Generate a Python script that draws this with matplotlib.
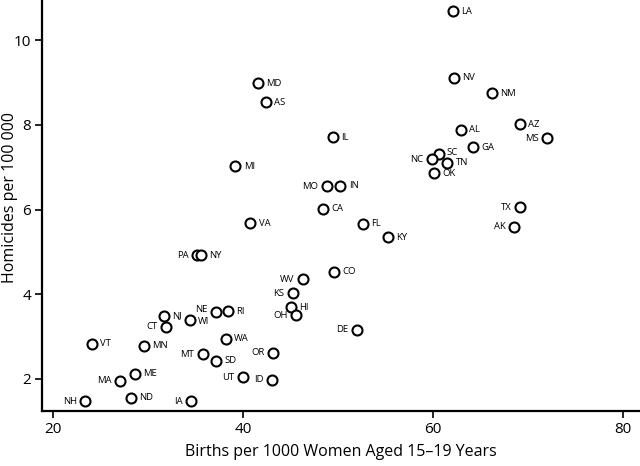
import matplotlib
matplotlib.use("Agg")
import matplotlib.pyplot as plt

plt.rcParams['font.family'] = ['Open Sans', 'DejaVu Sans']

states = ["MD", "AS", "MI", "VA", "LA", "NV", "NM", "AZ", "MS", "AL", "GA", "IL",
          "SC", "NC", "TN", "OK", "MO", "IN", "CA", "TX", "AK", "FL", "KY", "PA",
          "NY", "WV", "KS", "HI", "OH", "NJ", "NE", "RI", "WI", "CT", "VT", "MN",
          "WA", "MT", "SD", "OR", "ME", "MA", "UT", "ID", "NH", "ND", "IA", "CO", "DE"]
births = [41.56, 42.4, 39.2, 40.78, 62.09, 62.2, 66.2, 69.12, 72.0, 62.93, 64.2, 49.5,
          60.6, 59.9, 61.5, 60.08, 48.8, 50.27, 48.48, 69.16, 68.5, 52.6, 55.27, 35.13,
          35.58, 46.3, 45.25, 45.07, 45.57, 31.65, 37.16, 38.4, 34.42, 31.89, 24.08, 29.57,
          38.19, 35.76, 37.16, 43.18, 28.62, 27.07, 40.0, 43.1, 23.38, 28.2, 34.5, 49.57, 51.96]
homicides = [8.98, 8.54, 7.02, 5.68, 10.69, 9.11, 8.75, 8.02, 7.68, 7.88, 7.47, 7.71,
             7.32, 7.19, 7.11, 6.86, 6.55, 6.56, 6.02, 6.05, 5.59, 5.66, 5.34, 4.92,
             4.92, 4.35, 4.02, 3.69, 3.50, 3.49, 3.58, 3.60, 3.39, 3.23, 2.83, 2.78,
             2.95, 2.58, 2.43, 2.62, 2.12, 1.95, 2.04, 1.98, 1.47, 1.55, 1.47, 4.53, 3.16]
left_labeled = {"NC", "MO", "TX", "AK", "MS", "PA", "WV", "KS", "OH", "CT", "MA",
                "NH", "IA", "MT", "OR", "UT", "ID", "DE", "NE"}
label_nudge = {"NE": 1.5, "WI": -1.2, "SC": 0.8}
x_ticks = [20, 40, 60, 80]
y_ticks = [2, 4, 6, 8, 10]

fig = plt.figure(figsize=(6.4, 4.66), dpi=100)
ax = fig.add_axes([42/640, 55/466, 1 - 42/640, 1 - 55/466])
ax.plot(births, homicides, linestyle='none', marker='o', markersize=7.2,
        markerfacecolor='white', markeredgecolor='black', markeredgewidth=1.5)
for s, x, y in zip(states, births, homicides):
    dy = label_nudge.get(s, 0)
    if s in left_labeled:
        ax.annotate(s, (x, y), xytext=(-6, dy), textcoords='offset points',
                    ha='right', va='center', fontsize=6.8)
    else:
        ax.annotate(s, (x, y), xytext=(6, dy), textcoords='offset points',
                    ha='left', va='center', fontsize=6.8)

ax.set_xlim(18.85, 81.8)
ax.set_ylim(1.24, 10.95)
ax.set_xticks(x_ticks)
ax.set_yticks(y_ticks)
ax.spines['top'].set_visible(False)
ax.spines['right'].set_visible(False)
ax.spines['left'].set_linewidth(1.6)
ax.spines['bottom'].set_linewidth(1.6)
ax.tick_params(direction='out', length=5, width=1.2, labelsize=11, pad=3)
ax.set_xlabel("Births per 1000 Women Aged 15\u201319 Years", fontsize=11.5, labelpad=5)
ax.set_ylabel("Homicides per 100 000", fontsize=11.5, va='center')
ax.yaxis.set_label_coords(-0.053, 0.52)
fig.savefig("out.png", dpi=100)
